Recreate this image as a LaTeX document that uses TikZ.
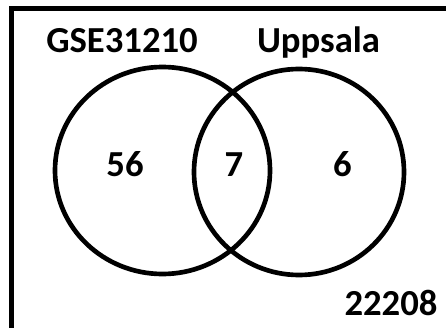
\documentclass[tikz,border=0pt]{standalone}
\usepackage{fontspec}
\setmainfont{Carlito}
\begin{document}
\begin{tikzpicture}[x=0.75pt,y=-0.75pt,
  label/.style={font=\bfseries\fontsize{27.5pt}{30pt}\selectfont, inner sep=0pt, anchor=base},
  set/.style={draw=black, line width=3.5pt}]
\useasboundingbox (0,0) rectangle (446,328);
\clip (0,0) rectangle (446,328);
% frame (only its top and left sides fall inside the page)
\draw[line width=3.6pt] (11.5,8.3) rectangle (470,350);
% the two sets
\coordinate (cA) at (162.5,170.5);
\coordinate (cB) at (299,172);
\draw[set] (cA) ellipse [x radius=107.5, y radius=103.5];
\draw[set] (cB) ellipse [x radius=105, y radius=103];
% set names
\node[label] (nameA) at (122,53) {GSE31210};
\node[label] (nameB) at (318.5,53) {Uppsala};
% counts
\node[label] (onlyA) at (125,176.5) {56};
\node[label] (both) at (234,176.5) {7};
\node[label] (onlyB) at (342.5,176.5) {6};
\node[label] (none) at (391,315) {22208};
\end{tikzpicture}
\end{document}
